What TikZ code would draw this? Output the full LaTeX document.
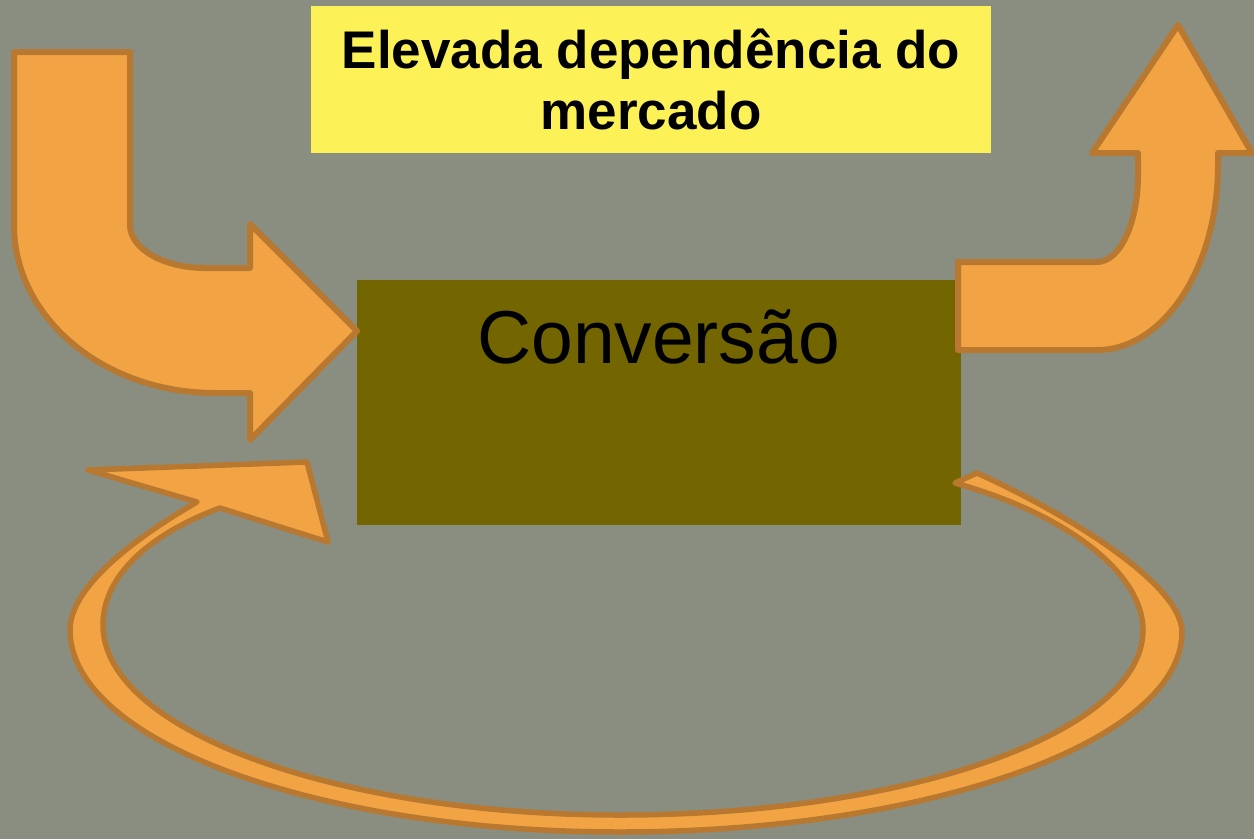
\documentclass[tikz,border=0pt]{standalone}
\usepackage{fontspec}
\newfontfamily\arialfont{Liberation Sans}
\definecolor{bgcol}{HTML}{898E80}
\definecolor{titlefill}{HTML}{FDF158}
\definecolor{convfill}{HTML}{736600}
\definecolor{arrowfill}{HTML}{F2A445}
\definecolor{arrowline}{HTML}{B8782F}
\begin{document}
\begin{tikzpicture}[x=1pt,y=-1pt,
  bigarrow/.style={fill=arrowfill, draw=arrowline, line width=6pt, line join=round},
  loopy/.style={fill=arrowfill, draw=arrowline, line width=5.5pt, line join=round}]
\fill[bgcol] (0,0) rectangle (1254,839);
\useasboundingbox (0,0) rectangle (1254,839);

% title box
\fill[titlefill] (311,6) rectangle (991,153);
\node[inner sep=0pt, align=center, font=\arialfont\bfseries\fontsize{53}{61}\selectfont] (title) at (651,79)
  {Elevada dependência do\\mercado};

% conversion box
\fill[convfill] (357,280) rectangle (961,525);
\node[inner sep=0pt, anchor=base, font=\arialfont\fontsize{75}{80}\selectfont] (conv) at (658.5,363) {Conversão};

% left bent arrow
\draw[bigarrow] (14,52) -- (130,52) -- (130,225)
  .. controls (130,249) and (164,268) .. (205,268)
  -- (250,268) -- (250,224) -- (357,331) -- (250,440) -- (250,393) -- (215,393)
  .. controls (104,393) and (14,318) .. (14,225) -- cycle;

% right bent arrow
\draw[bigarrow] (958,262) -- (1097,262)
  .. controls (1120,262) and (1138,223) .. (1138,175)
  -- (1138,153) -- (1092,153) -- (1178,25) -- (1252,153) -- (1218,153) -- (1218,165)
  .. controls (1218,267) and (1164,350) .. (1097,350)
  -- (958,350) -- cycle;

% looping arrow
\draw[loopy]
  (197,502) .. controls (140,535) and (70,585) .. (70,630)
  .. controls (70,741) and (316,832) .. (620,832)
  .. controls (930,832) and (1182,741) .. (1182,632)
  .. controls (1182,585) and (1070,515) .. (977,473)
  -- (955,483)
  .. controls (1070,515) and (1143,575) .. (1143,630)
  .. controls (1143,732) and (909,815) .. (620,815)
  .. controls (335,815) and (103,730) .. (103,625)
  .. controls (103,570) and (160,530) .. (220,508)
  -- (328,542) -- (307,462) -- (88,470) -- cycle;
\end{tikzpicture}
\end{document}
